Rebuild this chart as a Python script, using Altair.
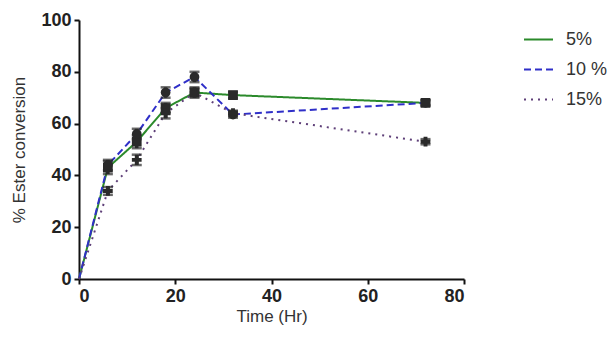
import altair as alt
import pandas as pd

time = [0, 6, 12, 18, 24, 32, 72]
series = ["5%", "10 %", "15%"]
c5 = [0, 43, 53, 66, 72, 71, 68]
c10 = [0, 44, 56, 72, 78, 63.5, 68]
c15 = [0, 34, 46, 64, 72, 64, 53]
e5 = [0, 2.5, 2.5, 2, 2, 1.2, 1]
e10 = [0, 2, 2, 2, 2, 1.2, 1]
e15 = [0, 1.5, 2, 2, 1.5, 1, 1]

rows = []
for name, vals, errs in zip(series, [c5, c10, c15], [e5, e10, e15]):
    for t, v, e in zip(time, vals, errs):
        rows.append({"Time": t, "Conv": v, "lo": v - e, "hi": v + e,
                     "Series": name, "Marker": name})
df = pd.DataFrame(rows)

colors = ["#2b8a2b", "#2f2fc8", "#5e3f78"]
dashes = [[1, 0], [7, 4], [2, 5]]
shapes = ["square", "circle", "cross"]

font = "Liberation Sans"
xs = alt.Scale(domain=[0, 80], nice=False)
ys = alt.Scale(domain=[0, 100], nice=False)

base = alt.Chart(df)
nz = alt.Chart(df).transform_filter("datum.Time > 0")

lines = base.mark_line(strokeWidth=2).encode(
    x=alt.X("Time:Q", scale=xs, title="Time (Hr)",
            axis=alt.Axis(values=[0, 20, 40, 60, 80], grid=False)),
    y=alt.Y("Conv:Q", scale=ys, title="% Ester conversion",
            axis=alt.Axis(values=[0, 20, 40, 60, 80, 100], grid=False)),
    color=alt.Color("Series:N", sort=series,
                    scale=alt.Scale(domain=series, range=colors),
                    legend=alt.Legend(title=None, orient="none", legendX=444, legendY=4,
                                      symbolType="stroke", symbolSize=841,
                                      symbolStrokeWidth=2, labelFontSize=18,
                                      labelFont=font, labelColor="#333",
                                      rowPadding=5, labelOffset=12)),
    strokeDash=alt.StrokeDash("Series:N", sort=series,
                              scale=alt.Scale(domain=series, range=dashes)),
    detail="Series:N",
)

errs = nz.mark_rule(color="#2a2a2a", strokeWidth=3.5).encode(
    x="Time:Q", y="lo:Q", y2="hi:Q"
)
caps_lo = nz.mark_tick(color="#2a2a2a", thickness=2.5, size=10, orient="horizontal").encode(
    x="Time:Q", y="lo:Q"
)
caps_hi = nz.mark_tick(color="#2a2a2a", thickness=2.5, size=10, orient="horizontal").encode(
    x="Time:Q", y="hi:Q"
)
pts = nz.mark_point(filled=True, opacity=1, color="#2a2a2a", size=95).encode(
    x="Time:Q", y="Conv:Q",
    shape=alt.Shape("Marker:N", sort=series,
                    scale=alt.Scale(domain=series, range=shapes), legend=None),
)

chart = alt.layer(lines, errs, caps_lo, caps_hi, pts).resolve_legend(
    shape="independent"
).properties(
    width=385, height=259,
    autosize=alt.AutoSizeParams(type="none"),
    padding={"left": 71, "top": 12, "right": 143, "bottom": 53},
).configure_view(stroke=None).configure_axis(
    labelFont=font, labelFontWeight="bold", labelFontSize=18, labelColor="#222",
    titleFont=font, titleFontWeight="normal", titleFontSize=17, titleColor="#333",
    domainColor="#111", domainWidth=2, tickColor="#111", tickWidth=2, tickSize=5,
    labelPadding=3,
).configure_axisY(titlePadding=12).configure_axisX(titlePadding=3)

chart.save("out.html", embed_options={"renderer": "svg", "actions": False})
